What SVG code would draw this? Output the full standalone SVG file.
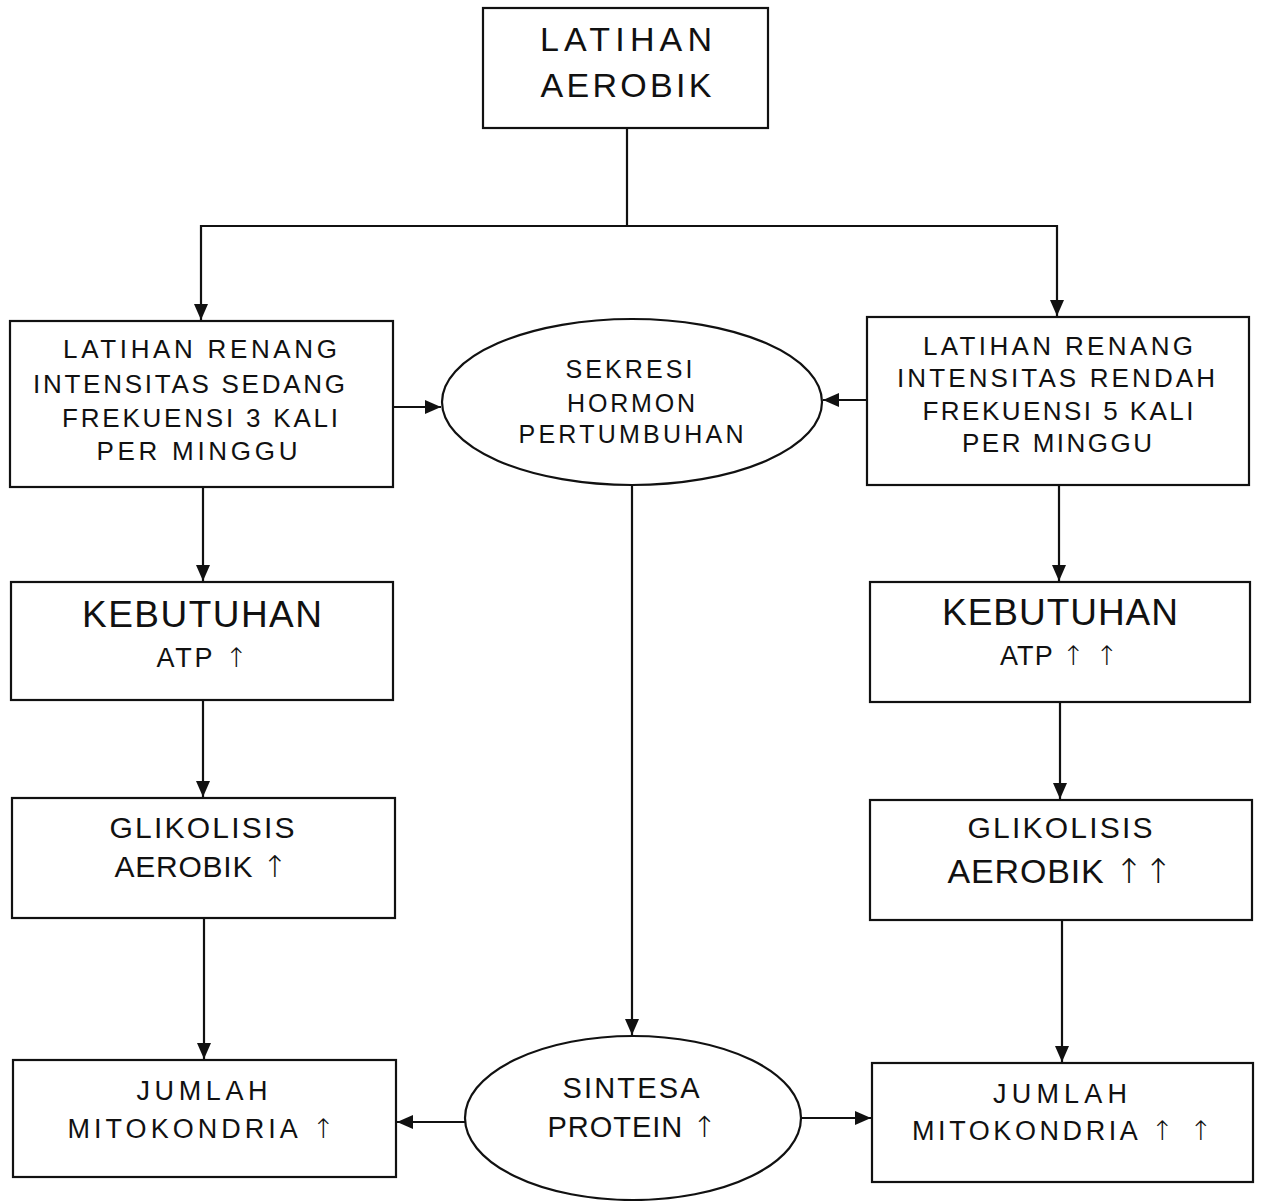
<svg xmlns="http://www.w3.org/2000/svg" width="1262" height="1201" viewBox="0 0 1262 1201">
<style>
.box{fill:#fff;stroke:#111;stroke-width:2.2}
.ell{fill:#fff;stroke:#111;stroke-width:2.2}
.con{fill:none;stroke:#111;stroke-width:2.2}
text{font-family:"Liberation Sans",Arial,sans-serif;fill:#111;text-anchor:middle}
.ar{font-family:"DejaVu Sans",sans-serif;font-weight:300}
</style>
<defs>
<marker id="ah" markerUnits="userSpaceOnUse" markerWidth="18" markerHeight="16" refX="16" refY="7" orient="auto">
<path d="M0,0 L16,7 L0,14 z" fill="#111"/>
</marker>
</defs>
<rect width="1262" height="1201" fill="#fff"/>
<g id="connectors">
<path class="con" d="M627,128 V226"/>
<path class="con" d="M627,226 H201 V320" marker-end="url(#ah)"/>
<path class="con" d="M627,226 H1057 V316" marker-end="url(#ah)"/>
<path class="con" d="M393,407 H441" marker-end="url(#ah)"/>
<path class="con" d="M867,400 H823" marker-end="url(#ah)"/>
<path class="con" d="M203,487 V581" marker-end="url(#ah)"/>
<path class="con" d="M203,700 V797" marker-end="url(#ah)"/>
<path class="con" d="M204,918 V1059" marker-end="url(#ah)"/>
<path class="con" d="M1059,485 V581" marker-end="url(#ah)"/>
<path class="con" d="M1060,702 V799" marker-end="url(#ah)"/>
<path class="con" d="M1062,920 V1062" marker-end="url(#ah)"/>
<path class="con" d="M632,485 V1035" marker-end="url(#ah)"/>
<path class="con" d="M465,1122 H397" marker-end="url(#ah)"/>
<path class="con" d="M802,1118 H871" marker-end="url(#ah)"/>
</g>
<g id="latihan-aerobik">
<rect class="box" x="483" y="8" width="285" height="120"/>
<text x="626" y="51" font-size="34" textLength="172" lengthAdjust="spacing">LATIHAN</text>
<text x="626" y="97" font-size="34" textLength="171" lengthAdjust="spacing">AEROBIK</text>
</g>
<g id="renang-sedang">
<rect class="box" x="10" y="321" width="383" height="166"/>
<text x="200" y="358" font-size="26" textLength="274" lengthAdjust="spacing">LATIHAN RENANG</text>
<text x="189" y="393" font-size="26" textLength="312" lengthAdjust="spacing">INTENSITAS SEDANG</text>
<text x="200" y="427" font-size="26" textLength="276" lengthAdjust="spacing">FREKUENSI 3 KALI</text>
<text x="197" y="460" font-size="26" textLength="201" lengthAdjust="spacing">PER MINGGU</text>
</g>
<g id="sekresi-hormon">
<ellipse class="ell" cx="632" cy="402" rx="190" ry="83"/>
<text x="629" y="378" font-size="25" textLength="127" lengthAdjust="spacing">SEKRESI</text>
<text x="631" y="412" font-size="25" textLength="128" lengthAdjust="spacing">HORMON</text>
<text x="631" y="443" font-size="25" textLength="225" lengthAdjust="spacing">PERTUMBUHAN</text>
</g>
<g id="renang-rendah">
<rect class="box" x="867" y="317" width="382" height="168"/>
<text x="1058" y="355" font-size="26" textLength="270" lengthAdjust="spacing">LATIHAN RENANG</text>
<text x="1056" y="387" font-size="26" textLength="318" lengthAdjust="spacing">INTENSITAS RENDAH</text>
<text x="1058" y="420" font-size="26" textLength="271" lengthAdjust="spacing">FREKUENSI 5 KALI</text>
<text x="1057" y="452" font-size="26" textLength="190" lengthAdjust="spacing">PER MINGGU</text>
</g>
<g id="kebutuhan-kiri">
<rect class="box" x="11" y="582" width="382" height="118"/>
<text x="202" y="627" font-size="37" textLength="240" lengthAdjust="spacing">KEBUTUHAN</text>
<text x="202" y="667" font-size="27" textLength="91" lengthAdjust="spacing">ATP <tspan class="ar">↑</tspan></text>
</g>
<g id="glikolisis-kiri">
<rect class="box" x="12" y="798" width="383" height="120"/>
<text x="202" y="838" font-size="30" textLength="185" lengthAdjust="spacing">GLIKOLISIS</text>
<text x="201" y="877" font-size="30" textLength="173" lengthAdjust="spacing">AEROBIK <tspan class="ar">↑</tspan></text>
</g>
<g id="jumlah-kiri">
<rect class="box" x="13" y="1060" width="383" height="117"/>
<text x="202" y="1100" font-size="27" textLength="131" lengthAdjust="spacing">JUMLAH</text>
<text x="201" y="1138" font-size="27" textLength="267" lengthAdjust="spacing">MITOKONDRIA <tspan class="ar">↑</tspan></text>
</g>
<g id="sintesa-protein">
<ellipse class="ell" cx="633" cy="1118" rx="168" ry="82"/>
<text x="631" y="1098" font-size="29" textLength="137" lengthAdjust="spacing">SINTESA</text>
<text x="632" y="1137" font-size="29" textLength="169" lengthAdjust="spacing">PROTEIN <tspan class="ar">↑</tspan></text>
</g>
<g id="kebutuhan-kanan">
<rect class="box" x="870" y="582" width="380" height="120"/>
<text x="1060" y="625" font-size="37" textLength="236" lengthAdjust="spacing">KEBUTUHAN</text>
<text x="1059" y="665" font-size="27" textLength="118" lengthAdjust="spacing">ATP <tspan class="ar">↑ ↑</tspan></text>
</g>
<g id="glikolisis-kanan">
<rect class="box" x="870" y="800" width="382" height="120"/>
<text x="1060" y="838" font-size="30" textLength="185" lengthAdjust="spacing">GLIKOLISIS</text>
<text x="1060" y="883" font-size="34" textLength="225" lengthAdjust="spacing">AEROBIK <tspan class="ar">↑↑</tspan></text>
</g>
<g id="jumlah-kanan">
<rect class="box" x="872" y="1063" width="381" height="119"/>
<text x="1060" y="1103" font-size="27" textLength="134" lengthAdjust="spacing">JUMLAH</text>
<text x="1062" y="1140" font-size="27" textLength="300" lengthAdjust="spacing">MITOKONDRIA <tspan class="ar">↑ ↑</tspan></text>
</g>
</svg>
